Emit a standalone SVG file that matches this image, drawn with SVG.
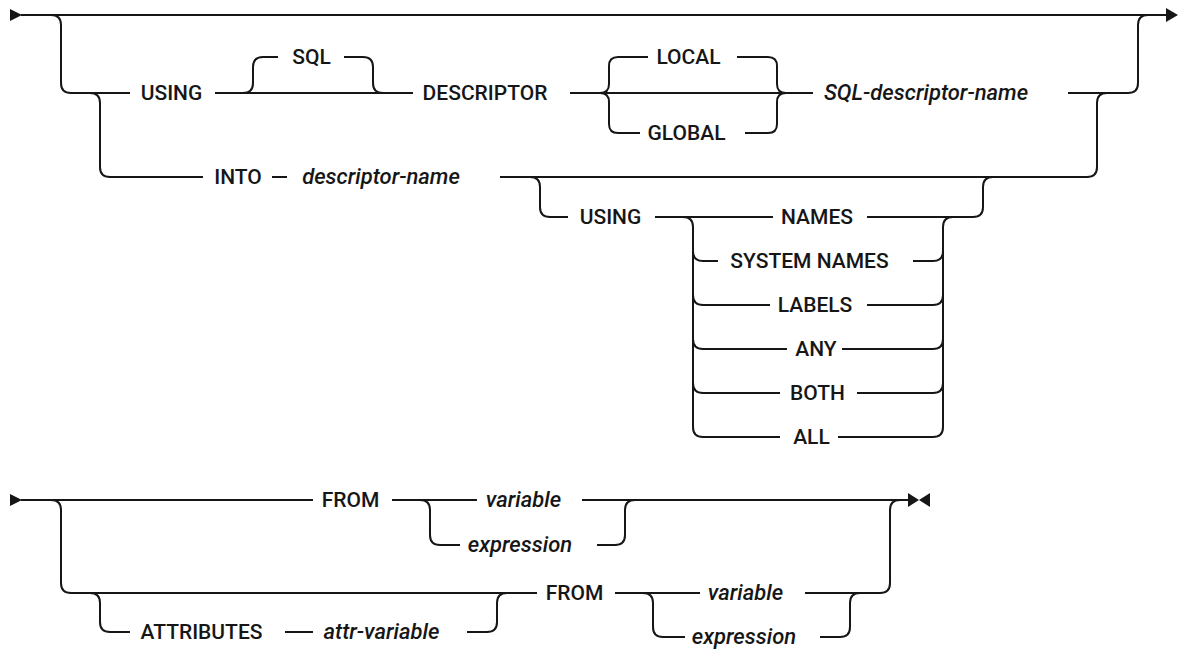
<svg xmlns="http://www.w3.org/2000/svg" width="1180" height="652" viewBox="0 0 1180 652">
<style>
.c{fill:none;stroke:#161616;stroke-width:2}
.k{font-family:Roboto,"Liberation Sans",sans-serif;font-size:21px;font-weight:500;fill:#161616;text-anchor:middle}
.v{font-family:Roboto,"Liberation Sans",sans-serif;font-size:22px;font-weight:500;font-style:italic;fill:#161616;text-anchor:middle}
.a{fill:#161616}
</style>
<rect width="1180" height="652" fill="#fff"/>
<g id="connectors">
<!-- top diagram -->
<path class="c" d="M21,15 H1166"/>
<path class="c" d="M51,15 Q61,15 61,25 V83 Q61,93 71,93 H130"/>
<path class="c" d="M215,93 H413"/>
<path class="c" d="M243,93 Q253,93 253,83 V67 Q253,57 263,57 H278"/>
<path class="c" d="M344,57 H363 Q373,57 373,67 V83 Q373,93 383,93"/>
<path class="c" d="M570,93 H813"/>
<path class="c" d="M600,93 Q609,93 609,84 V66 Q609,57 618,57 H648"/>
<path class="c" d="M600,93 Q609,93 609,102 V124 Q609,133 618,133 H640"/>
<path class="c" d="M737,57 H768 Q777,57 777,66 V84 Q777,93 786,93"/>
<path class="c" d="M745,133 H768 Q777,133 777,124 V102 Q777,93 786,93"/>
<path class="c" d="M1068,93 H1128 Q1138,93 1138,83 V25 Q1138,15 1148,15"/>
<path class="c" d="M90,93 Q100,93 100,103 V167 Q100,177 110,177 H203"/>
<path class="c" d="M272,177 H287"/>
<path class="c" d="M500,177 H1087 Q1097,177 1097,167 V103 Q1097,93 1107,93"/>
<path class="c" d="M530,177 Q540,177 540,187 V207 Q540,217 550,217 H568"/>
<path class="c" d="M655,217 H773"/>
<path class="c" d="M867,217 H973 Q983,217 983,207 V187 Q983,177 993,177"/>
<path class="c" d="M683,217 Q693,217 693,227 V427 Q693,437 703,437 H780"/>
<path class="c" d="M693,251 Q693,261 703,261 H718"/>
<path class="c" d="M693,295 Q693,305 703,305 H770"/>
<path class="c" d="M693,339 Q693,349 703,349 H787"/>
<path class="c" d="M693,383 Q693,393 703,393 H780"/>
<path class="c" d="M953,217 Q943,217 943,227 V427 Q943,437 933,437 H838"/>
<path class="c" d="M913,261 H933 Q943,261 943,251"/>
<path class="c" d="M867,305 H933 Q943,305 943,295"/>
<path class="c" d="M842,349 H933 Q943,349 943,339"/>
<path class="c" d="M857,393 H933 Q943,393 943,383"/>
<polygon class="a" points="10,9 22,15 10,21"/>
<polygon class="a" points="1166,8 1178,15 1166,22"/>
<!-- bottom diagram -->
<path class="c" d="M21,500 H313"/>
<path class="c" d="M392,500 H477"/>
<path class="c" d="M582,500 H908"/>
<path class="c" d="M51,500 Q61,500 61,510 V583 Q61,593 71,593 H537"/>
<path class="c" d="M420,500 Q430,500 430,510 V535 Q430,545 440,545 H460"/>
<path class="c" d="M597,545 H615 Q625,545 625,535 V510 Q625,500 635,500"/>
<path class="c" d="M90,593 Q100,593 100,603 V622 Q100,632 110,632 H130"/>
<path class="c" d="M285,632 H313"/>
<path class="c" d="M467,632 H487 Q497,632 497,622 V603 Q497,593 507,593"/>
<path class="c" d="M615,593 H700"/>
<path class="c" d="M643,593 Q653,593 653,603 V627 Q653,637 663,637 H685"/>
<path class="c" d="M805,593 H880 Q890,593 890,583 V510 Q890,500 900,500"/>
<path class="c" d="M820,637 H840 Q850,637 850,627 V603 Q850,593 860,593"/>
<polygon class="a" points="10,494 22,500 10,506"/>
<polygon class="a" points="908,493 919,500 908,507"/>
<polygon class="a" points="930,493 919,500 930,507"/>
</g>
<g id="n-using1"><text class="k" x="171.5" y="100">USING</text></g>
<g id="n-sql"><text class="k" x="311.5" y="64">SQL</text></g>
<g id="n-descriptor"><text class="k" x="485" y="100">DESCRIPTOR</text></g>
<g id="n-local"><text class="k" x="688.5" y="64">LOCAL</text></g>
<g id="n-global"><text class="k" x="686.5" y="140">GLOBAL</text></g>
<g id="n-sqldescname"><text class="v" x="926" y="100">SQL-descriptor-name</text></g>
<g id="n-into"><text class="k" x="238" y="184">INTO</text></g>
<g id="n-descname"><text class="v" x="381" y="184">descriptor-name</text></g>
<g id="n-using2"><text class="k" x="610.5" y="224">USING</text></g>
<g id="n-names"><text class="k" x="817" y="224">NAMES</text></g>
<g id="n-sysnames"><text class="k" x="809.5" y="268">SYSTEM NAMES</text></g>
<g id="n-labels"><text class="k" x="815" y="312">LABELS</text></g>
<g id="n-any"><text class="k" x="816" y="356">ANY</text></g>
<g id="n-both"><text class="k" x="817.5" y="400">BOTH</text></g>
<g id="n-all"><text class="k" x="811.5" y="444">ALL</text></g>
<g id="n-from1"><text class="k" x="350.5" y="507">FROM</text></g>
<g id="n-variable1"><text class="v" x="523.5" y="507">variable</text></g>
<g id="n-expression1"><text class="v" x="520" y="552">expression</text></g>
<g id="n-attributes"><text class="k" x="201.5" y="639">ATTRIBUTES</text></g>
<g id="n-attrvar"><text class="v" x="381.5" y="639">attr-variable</text></g>
<g id="n-from2"><text class="k" x="574.5" y="600">FROM</text></g>
<g id="n-variable2"><text class="v" x="745.5" y="600">variable</text></g>
<g id="n-expression2"><text class="v" x="744" y="644">expression</text></g>
</svg>
